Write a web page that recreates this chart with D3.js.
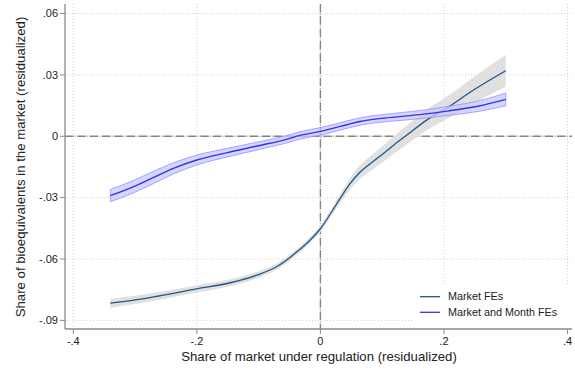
<!DOCTYPE html>
<html>
<head>
<meta charset="utf-8">
<script src="https://cdn.jsdelivr.net/npm/d3@7"></script>
<style>
  html, body { margin: 0; padding: 0; background: #fff; }
  svg { display: block; font-family: "Liberation Sans", Arial, sans-serif; }
</style>
</head>
<body>
<svg id="chart" width="575" height="373"></svg>
<script>
// Fitted relationship: share of bioequivalents vs. share of market under regulation
const xTicks = [-0.4, -0.2, 0, 0.2, 0.4];
const xTickLabels = ["-.4", "-.2", "0", ".2", ".4"];
const yTicks = [0.06, 0.03, 0, -0.03, -0.06, -0.09];
const yTickLabels = [".06", ".03", "0", "-.03", "-.06", "-.09"];

// Market FEs: x, fitted value, CI half-width
const marketX  = [-0.34, -0.30, -0.264, -0.20, -0.146, -0.103, -0.071, -0.038, -0.017, 0.0, 0.016, 0.032, 0.048, 0.064, 0.08, 0.102, 0.12, 0.14, 0.172, 0.205, 0.248, 0.30];
const marketY  = [-0.0816, -0.0800, -0.0782, -0.0746, -0.0716, -0.0679, -0.0638, -0.0565, -0.0508, -0.0452, -0.0380, -0.0304, -0.0232, -0.0176, -0.0136, -0.0084, -0.0040, 0.0006, 0.0079, 0.0139, 0.0226, 0.0320];
const marketCI = [0.0022, 0.0020, 0.0019, 0.0018, 0.0017, 0.0016, 0.0015, 0.0015, 0.0015, 0.0015, 0.0017, 0.0022, 0.0028, 0.0033, 0.0036, 0.0040, 0.0043, 0.0046, 0.0050, 0.0055, 0.0064, 0.0078];

// Market and Month FEs: x, fitted value, CI half-width
const monthX  = [-0.34, -0.303, -0.270, -0.238, -0.20, -0.152, -0.098, -0.055, -0.033, 0.0, 0.032, 0.064, 0.095, 0.129, 0.167, 0.205, 0.259, 0.30];
const monthY  = [-0.0290, -0.0247, -0.0201, -0.0157, -0.0116, -0.0081, -0.0045, -0.0015, 0.0004, 0.0024, 0.0048, 0.0072, 0.0086, 0.0096, 0.0108, 0.0123, 0.0149, 0.0180];
const monthCI = [0.0030, 0.0030, 0.0030, 0.0027, 0.0024, 0.0021, 0.0019, 0.0018, 0.0018, 0.0018, 0.0018, 0.0018, 0.0018, 0.0019, 0.0020, 0.0022, 0.0026, 0.0031];

const seriesNames = ["Market FEs", "Market and Month FEs"];

const svg = d3.select("#chart");
const plotL = 65, plotR = 572, plotT = 4, plotB = 329;

const x = d3.scaleLinear().domain([-0.4, 0.4]).range([73.3, 567.5]);
const y = d3.scaleLinear().domain([-0.09, 0.06]).range([320.4, 13.5]);

// dotted grid
const grid = svg.append("g");
grid.selectAll("line.gy").data(yTicks).join("line")
  .attr("x1", plotL + 1).attr("x2", plotR)
  .attr("y1", d => y(d)).attr("y2", d => y(d))
  .attr("stroke", "#cfcfcf").attr("stroke-width", 1).attr("stroke-dasharray", "1,2");
grid.selectAll("line.gx").data(xTicks).join("line")
  .attr("y1", plotT).attr("y2", plotB - 1)
  .attr("x1", d => x(d)).attr("x2", d => x(d))
  .attr("stroke", "#cfcfcf").attr("stroke-width", 1).attr("stroke-dasharray", "1,2");

// zero reference lines
const refDash = "8.5,1.6,0.6,1.6";
svg.append("line").attr("x1", plotL).attr("x2", plotR).attr("y1", y(0)).attr("y2", y(0))
  .attr("stroke", "#858585").attr("stroke-width", 1.4).attr("stroke-dasharray", refDash);
svg.append("line").attr("y1", plotT).attr("y2", plotB).attr("x1", x(0)).attr("x2", x(0))
  .attr("stroke", "#858585").attr("stroke-width", 1.4).attr("stroke-dasharray", refDash);

const curve = d3.curveMonotoneX;

function drawSeries(xs, ys, cis, bandFill, bandStroke, lineColor, lineW) {
  const pts = xs.map((d, i) => ({ x: d, y: ys[i], ci: cis[i] }));
  const area = d3.area().curve(curve)
    .x(d => x(d.x)).y0(d => y(d.y - d.ci)).y1(d => y(d.y + d.ci));
  svg.append("path").datum(pts).attr("d", area)
    .attr("fill", bandFill).attr("stroke", bandStroke).attr("stroke-width", bandStroke === "none" ? 0 : 0.8);
  const line = d3.line().curve(curve).x(d => x(d.x)).y(d => y(d.y));
  svg.append("path").datum(pts).attr("d", line)
    .attr("fill", "none").attr("stroke", lineColor).attr("stroke-width", lineW);
}

drawSeries(marketX, marketY, marketCI, "#e0e0e0", "none", "#1f5685", 1.3);
drawSeries(monthX, monthY, monthCI, "rgba(200,200,255,0.75)", "#9090ff", "#3333ee", 1.4);

// axes
const axisColor = "#8a8a8a";
svg.append("line").attr("x1", plotL).attr("x2", plotL).attr("y1", plotT).attr("y2", plotB)
  .attr("stroke", axisColor).attr("stroke-width", 1.3);
svg.append("line").attr("x1", plotL).attr("x2", plotR).attr("y1", plotB).attr("y2", plotB)
  .attr("stroke", axisColor).attr("stroke-width", 1.3);

const yAxis = svg.append("g");
yAxis.selectAll("line").data(yTicks).join("line")
  .attr("x1", plotL - 5).attr("x2", plotL).attr("y1", d => y(d)).attr("y2", d => y(d))
  .attr("stroke", axisColor).attr("stroke-width", 1);
yAxis.selectAll("text").data(yTicks).join("text")
  .attr("x", plotL - 7).attr("y", d => y(d)).attr("dy", "0.35em")
  .attr("text-anchor", "end").attr("font-size", 11).attr("fill", "#222")
  .text((d, i) => yTickLabels[i]);

const xAxis = svg.append("g");
xAxis.selectAll("line").data(xTicks).join("line")
  .attr("y1", plotB).attr("y2", plotB + 5).attr("x1", d => x(d)).attr("x2", d => x(d))
  .attr("stroke", axisColor).attr("stroke-width", 1);
xAxis.selectAll("text").data(xTicks).join("text")
  .attr("x", d => x(d)).attr("y", plotB + 16)
  .attr("text-anchor", "middle").attr("font-size", 11).attr("fill", "#222")
  .text((d, i) => xTickLabels[i]);

// axis titles
svg.append("text").attr("x", 319).attr("y", 361).attr("text-anchor", "middle")
  .attr("font-size", 13.2).attr("fill", "#222")
  .text("Share of market under regulation (residualized)");
svg.append("text").attr("transform", "translate(25,167) rotate(-90)")
  .attr("text-anchor", "middle").attr("font-size", 13.2).attr("fill", "#222")
  .text("Share of bioequivalents in the market (residualized)");

// legend
const lg = svg.append("g");
lg.append("rect").attr("x", 412).attr("y", 284).attr("width", 159).attr("height", 43).attr("fill", "#fff");
const legendColors = ["#1f5685", "#3333ee"];
seriesNames.forEach((name, i) => {
  const ly = 296.7 + i * 15.6;
  lg.append("line").attr("x1", 420).attr("x2", 440).attr("y1", ly).attr("y2", ly)
    .attr("stroke", legendColors[i]).attr("stroke-width", 1.3);
  lg.append("text").attr("x", 448).attr("y", ly).attr("dy", "0.35em")
    .attr("font-size", 10.8).attr("fill", "#222").text(name);
});
</script>
</body>
</html>
